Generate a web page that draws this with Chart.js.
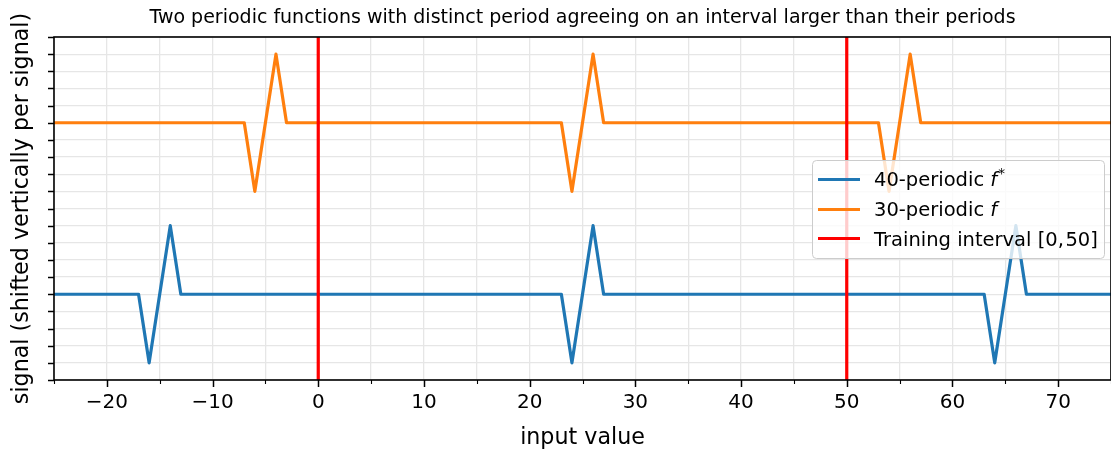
<!DOCTYPE html>
<html>
<head>
<meta charset="utf-8">
<script src="https://cdn.jsdelivr.net/npm/chart.js@4.4.0/dist/chart.umd.min.js"></script>
<style>
  html, body { margin: 0; padding: 0; background: #fff; }
  #wrap { width: 1111px; height: 450px; }
</style>
</head>
<body>
<div id="wrap"><canvas id="chart" width="1111" height="450"></canvas></div>
<script>
// Texts
const titleText = 'Two periodic functions with distinct period agreeing on an interval larger than their periods';
const xLabel = 'input value';
const yLabel = 'signal (shifted vertically per signal)';

// 40-periodic f* (blue), polyline vertices, shifted down
const starX = [-25, -17, -16, -14, -13, 23, 24, 26, 27, 63, 64, 66, 67, 75];
const starY = [5, 5, 1, 9, 5, 5, 1, 9, 5, 5, 1, 9, 5, 5];

// 30-periodic f (orange), polyline vertices, shifted up
const fX = [-25, -7, -6, -4, -3, 23, 24, 26, 27, 53, 54, 56, 57, 75];
const fY = [15, 15, 11, 19, 15, 15, 11, 19, 15, 15, 11, 19, 15, 15];

// training interval borders
const trainBounds = [0, 50];

// axis ranges
const xRange = [-25, 75];
const yRange = [0, 20];

const FONT = '"DejaVu Sans", "Liberation Sans", sans-serif';

const toPoints = (xs, ys) => xs.map((v, i) => ({ x: v, y: ys[i] }));

// Legend entries (rich text pieces for the mathtext parts)
const legendEntries = [
  { color: '#1f77b4', parts: [{ t: '40-periodic ' }, { t: 'f', italic: true }, { t: '*', sup: true }] },
  { color: '#ff7f0e', parts: [{ t: '30-periodic ' }, { t: 'f', italic: true }] },
  { color: '#ff0000', parts: [{ t: 'Training interval [0,' }, { gap: 1.5 }, { t: '50]' }] }
];

// Draws spines, ticks, title, axis labels and the in-axes legend
const decorPlugin = {
  id: 'decor',
  afterDatasetsDraw(chart) {
    const { ctx, chartArea: a, scales: { x, y } } = chart;
    ctx.save();
    ctx.strokeStyle = '#000';
    // x ticks (major every 10, minor every 5)
    x.ticks.forEach(t => {
      const px = Math.round(x.getPixelForValue(t.value)) + 0.5;
      const major = t.value % 10 === 0;
      ctx.lineWidth = major ? 1.5 : 1.1;
      ctx.beginPath();
      ctx.moveTo(px, a.bottom);
      ctx.lineTo(px, a.bottom + (major ? 7 : 4));
      ctx.stroke();
    });
    // y ticks
    y.ticks.forEach(t => {
      const py = Math.round(y.getPixelForValue(t.value)) + 0.5;
      ctx.lineWidth = 1.5;
      ctx.beginPath();
      ctx.moveTo(a.left, py);
      ctx.lineTo(a.left - 6, py);
      ctx.stroke();
    });
    // spines
    ctx.lineWidth = 1.6;
    ctx.strokeRect(a.left, a.top, a.right - a.left, a.bottom - a.top);
    ctx.restore();
  },
  afterDraw(chart) {
    const { ctx, chartArea: a } = chart;
    ctx.save();
    ctx.fillStyle = '#000';

    // title
    ctx.font = '19px ' + FONT;
    ctx.textAlign = 'center';
    ctx.textBaseline = 'alphabetic';
    ctx.fillText(titleText, (a.left + a.right) / 2, 23);

    // axis labels
    ctx.font = '22.2px ' + FONT;
    ctx.fillText(xLabel, (a.left + a.right) / 2, 444);
    ctx.save();
    ctx.translate(28, (a.top + a.bottom) / 2);
    ctx.rotate(-Math.PI / 2);
    ctx.fillText(yLabel, 0, 0);
    ctx.restore();

    // legend
    const box = { x: 812, y: 160, w: 292, h: 98 };
    ctx.beginPath();
    ctx.roundRect(box.x + 0.5, box.y + 0.5, box.w, box.h, 4);
    ctx.fillStyle = 'rgba(255,255,255,0.8)';
    ctx.fill();
    ctx.strokeStyle = '#cccccc';
    ctx.lineWidth = 1;
    ctx.stroke();

    const rowLine = [179.5, 209.5, 238.5];
    const rowText = [186, 216, 245.5];
    ctx.textAlign = 'left';
    legendEntries.forEach((e, i) => {
      ctx.strokeStyle = e.color;
      ctx.lineWidth = 3.2;
      ctx.beginPath();
      ctx.moveTo(818, rowLine[i]);
      ctx.lineTo(860, rowLine[i]);
      ctx.stroke();
      let tx = 874;
      ctx.fillStyle = '#000';
      e.parts.forEach(p => {
        if (p.gap) {
          tx += p.gap;
        } else if (p.sup) {
          ctx.font = '13.6px ' + FONT;
          ctx.fillText(p.t, tx + 1, rowText[i] - 8);
          tx += ctx.measureText(p.t).width + 1;
        } else {
          ctx.font = (p.italic ? 'italic ' : '') + '19.5px ' + FONT;
          ctx.fillText(p.t, tx, rowText[i]);
          tx += ctx.measureText(p.t).width;
        }
      });
    });
    ctx.restore();
  }
};

const datasets = [
  {
    label: '40-periodic f*',
    data: toPoints(starX, starY),
    borderColor: '#1f77b4',
    order: 3
  },
  {
    label: '30-periodic f',
    data: toPoints(fX, fY),
    borderColor: '#ff7f0e',
    order: 2
  }
].concat(trainBounds.map((b, i) => ({
  label: i === 0 ? 'Training interval [0, 50]' : '',
  data: toPoints([b, b], yRange),
  borderColor: '#ff0000',
  order: 1
})));

datasets.forEach(d => {
  d.showLine = true;
  d.pointRadius = 0;
  d.borderWidth = 3.2;
  d.borderJoinStyle = 'round';
  d.fill = false;
  d.tension = 0;
});

const gridStyle = {
  color: '#e6e6e6',
  lineWidth: 1.3,
  drawTicks: false
};

new Chart(document.getElementById('chart'), {
  type: 'scatter',
  data: { datasets: datasets },
  options: {
    responsive: false,
    animation: false,
    layout: { padding: { top: 37, right: 0, left: 0, bottom: 0 } },
    plugins: {
      legend: { display: false },
      tooltip: { enabled: false },
      title: { display: false }
    },
    scales: {
      x: {
        type: 'linear',
        min: xRange[0],
        max: xRange[1],
        grid: gridStyle,
        border: { display: false },
        afterFit: scale => {
          scale.height = 70;
          scale.paddingLeft = 0;
          scale.paddingRight = 0;
        },
        ticks: {
          stepSize: 5,
          autoSkip: false,
          maxRotation: 0,
          padding: 11,
          color: '#000',
          font: { family: FONT, size: 20 },
          callback: v => (v % 10 === 0 ? String(v).replace('-', '\u2212') : '')
        }
      },
      y: {
        type: 'linear',
        min: yRange[0],
        max: yRange[1],
        grid: gridStyle,
        border: { display: false },
        afterFit: scale => { scale.width = 54; },
        ticks: {
          stepSize: 1,
          autoSkip: false,
          display: false
        }
      }
    }
  },
  plugins: [decorPlugin]
});
</script>
</body>
</html>
